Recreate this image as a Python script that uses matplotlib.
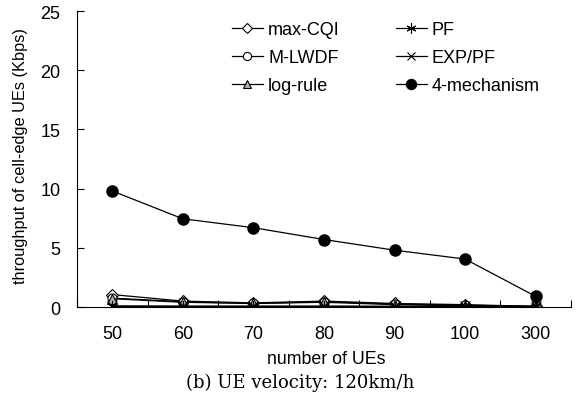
import matplotlib.pyplot as plt
import numpy as np

plt.rcParams['font.family'] = ['Liberation Sans', 'DejaVu Sans']

ue_labels = ['50', '60', '70', '80', '90', '100', '300']
max_cqi = [1.05, 0.5, 0.35, 0.5, 0.3, 0.2, 0.05]
m_lwdf = [0.75, 0.45, 0.3, 0.45, 0.25, 0.15, 0.05]
log_rule = [0.7, 0.4, 0.3, 0.4, 0.2, 0.1, 0.05]
pf = [0.05, 0.05, 0.05, 0.05, 0.05, 0.05, 0.05]
exp_pf = [0.1, 0.08, 0.08, 0.08, 0.06, 0.05, 0.05]
mech4 = [9.8, 7.45, 6.7, 5.7, 4.8, 4.05, 0.9]

fig = plt.figure(figsize=(5.85, 4.14), dpi=100)
ax = fig.add_axes([0.1316, 0.256, 0.8444, 0.715])

x = np.arange(len(ue_labels))
lw = 0.9
ax.plot(x, max_cqi, color='black', lw=lw, marker='D', ms=6, mfc='white', mec='black', mew=0.8, label='max-CQI')
ax.plot(x, m_lwdf, color='black', lw=lw, marker='o', ms=6.5, mfc='white', mec='black', mew=0.8, label='M-LWDF')
ax.plot(x, log_rule, color='black', lw=lw, marker='^', ms=6.5, mfc='#b0b0b0', mec='black', mew=0.8, label='log-rule')
ax.plot(x, pf, color='black', lw=lw, marker=(6, 2, 0), ms=8, mec='black', mew=0.8, label='PF')
ax.plot(x, exp_pf, color='black', lw=lw, marker='x', ms=6.5, mec='black', mew=0.8, label='EXP/PF')
ax.plot(x, mech4, color='black', lw=lw, marker='o', ms=8, mfc='black', mec='black', label='4-mechanism')

ax.set_xlim(-0.5, len(ue_labels) - 0.5)
ax.set_ylim(0, 25)
ax.set_yticks([0, 5, 10, 15, 20, 25])
ax.set_xticks(x)
ax.set_xticklabels(ue_labels)
ax.set_xticks(np.arange(len(ue_labels) + 1) - 0.5, minor=True)
ax.tick_params(axis='x', which='major', length=0, pad=13, labelsize=13)
ax.tick_params(axis='x', which='minor', direction='in', length=5, width=0.8)
ax.tick_params(axis='y', direction='in', length=5, width=0.8, labelsize=13, pad=12)
ax.spines['top'].set_visible(False)
ax.spines['right'].set_visible(False)
ax.spines['left'].set_linewidth(0.8)
ax.spines['bottom'].set_linewidth(0.8)

fig.text(21 / 585, 1 - 156 / 414, 'throughput of cell-edge UEs (Kbps)', rotation=90,
         ha='center', va='center', fontsize=11.8)
fig.text(326 / 585, 1 - 364 / 414, 'number of UEs', ha='center', va='baseline', fontsize=12.8)

handles, labels = ax.get_legend_handles_labels()
fig.legend(handles, labels, ncol=2, frameon=False, loc='upper left',
           bbox_to_anchor=(232 / 585, 1 - 22 / 414), bbox_transform=fig.transFigure,
           borderpad=0, borderaxespad=0, fontsize=13, handlelength=1.7,
           columnspacing=3.1, labelspacing=0.62, handletextpad=0.3, markerscale=0.9)

fig.text(300 / 585, 1 - 388 / 414, '(b) UE velocity: 120km/h', ha='center', va='baseline',
         fontsize=13, family=['DejaVu Serif', 'Liberation Serif'])

fig.savefig('out.png', dpi=100)
